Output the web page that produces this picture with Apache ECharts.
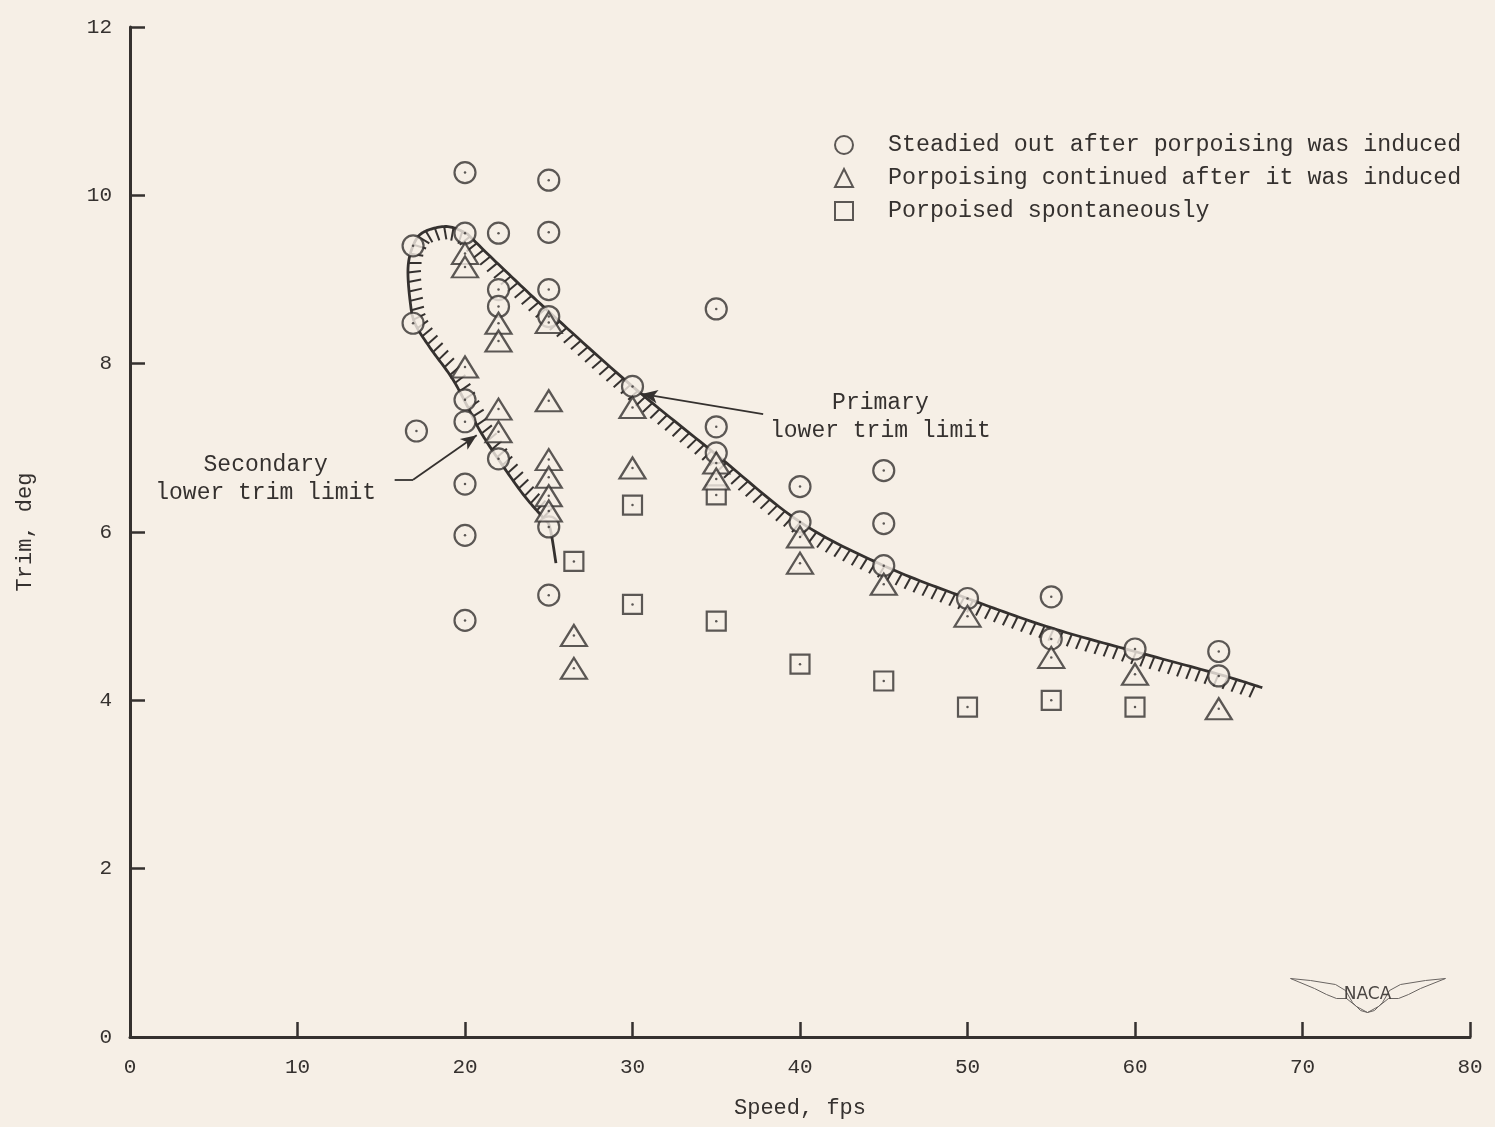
<!DOCTYPE html>
<html>
<head>
<meta charset="utf-8">
<script src="https://cdn.jsdelivr.net/npm/echarts@6/dist/echarts.min.js"></script>
<style>
  html, body { margin: 0; padding: 0; background: #f6efe6; }
  #chart { width: 1495px; height: 1127px; }
</style>
</head>
<body>
<div id="chart"></div>
<script>
// ---------------- data ----------------
const xTicks = [0, 10, 20, 30, 40, 50, 60, 70, 80];
const yTicks = [0, 2, 4, 6, 8, 10, 12];

// Steadied out after porpoising was induced (circles)
const steadiedSpeed = [16.9, 16.9, 17.1, 20, 20, 20, 20, 20, 20, 20, 22, 22, 22, 22, 25, 25, 25, 25, 25, 25, 30, 35, 35, 35, 40, 40, 45, 45, 45, 50, 55, 55, 60, 65, 65];
const steadiedTrim  = [9.40, 8.48, 7.20, 10.27, 9.55, 7.57, 7.31, 6.57, 5.96, 4.95, 9.55, 8.88, 8.68, 6.87, 10.18, 9.56, 8.88, 8.56, 6.06, 5.25, 7.73, 8.65, 7.25, 6.94, 6.54, 6.12, 6.73, 6.10, 5.60, 5.21, 5.23, 4.73, 4.61, 4.58, 4.29];

// Porpoising continued after it was induced (triangles)
const continuedSpeed = [20, 20, 20, 22, 22, 22, 22, 25, 25, 25, 25, 25, 25, 26.5, 26.5, 30, 30, 35, 35, 40, 40, 45, 50, 55, 60, 65];
const continuedTrim  = [9.31, 9.15, 7.96, 8.48, 8.27, 7.46, 7.19, 8.49, 7.56, 6.86, 6.65, 6.43, 6.25, 4.77, 4.38, 7.48, 6.76, 6.82, 6.63, 5.94, 5.63, 5.38, 5.00, 4.51, 4.31, 3.90];

// Porpoised spontaneously (squares)
const spontaneousSpeed = [26.5, 30, 30, 35, 35, 40, 45, 50, 55, 60];
const spontaneousTrim  = [5.65, 6.32, 5.14, 6.44, 4.94, 4.43, 4.23, 3.92, 4.00, 3.92];

// Primary lower trim limit (hatched curve)
const primarySpeed = [20.1, 22, 25, 30, 35, 40, 45, 50, 55, 60, 65, 67.6];
const primaryTrim  = [9.55, 9.18, 8.62, 7.73, 6.92, 6.12, 5.60, 5.21, 4.86, 4.58, 4.31, 4.15];

// Secondary lower trim limit (hatched loop + plain tail)
const secondarySpeed = [20.1, 18.9, 17.5, 16.9, 16.6, 16.72, 17.01, 17.91, 19.22, 20.18, 20.9, 21.97, 23.46, 24.66, 25.07, 25.43];
const secondaryTrim  = [9.55, 9.63, 9.56, 9.40, 9.14, 8.75, 8.48, 8.19, 7.83, 7.48, 7.20, 6.87, 6.45, 6.17, 6.05, 5.63];
const secondaryHatchedSegments = 13;

// Annotations (data units)
const primaryArrow = [[37.8, 7.40], [30.55, 7.64]];
const secondaryArrow = [[15.8, 6.62], [16.9, 6.62], [20.7, 7.15]];
const primaryLabelAt = [44.8, 7.37];
const secondaryLabelAt = [8.1, 6.63];

const seriesNames = [
  'Steadied out after porpoising was induced',
  'Porpoising continued after it was induced',
  'Porpoised spontaneously'
];

// ---------------- style ----------------
const BG = '#f6efe6';
const INK = '#35312f';
const MONO = '"Liberation Mono", "DejaVu Sans Mono", monospace';

const zip = (a, b) => a.map((v, i) => [v, b[i]]);

function catmull(pts, steps) {
  const out = [];
  for (let i = 0; i < pts.length - 1; i++) {
    const p0 = pts[Math.max(0, i - 1)], p1 = pts[i], p2 = pts[i + 1], p3 = pts[Math.min(pts.length - 1, i + 2)];
    for (let s = 0; s < steps; s++) {
      const t = s / steps, t2 = t * t, t3 = t2 * t;
      const f = (a, b, c, d) => 0.5 * ((2 * b) + (-a + c) * t + (2 * a - 5 * b + 4 * c - d) * t2 + (-a + 3 * b - 3 * c + d) * t3);
      out.push([f(p0[0], p1[0], p2[0], p3[0]), f(p0[1], p1[1], p2[1], p3[1])]);
    }
  }
  out.push(pts[pts.length - 1]);
  return out;
}

function hatchedCurve(xs, ys, side, hatchSegs) {
  const STEPS = 16;
  return function (params, api) {
    if (params.dataIndex !== 0) return null;
    const pts = xs.map((x, i) => api.coord([x, ys[i]]));
    const dense = catmull(pts, STEPS);
    const children = [{
      type: 'polyline',
      shape: { points: dense },
      style: { stroke: INK, lineWidth: 2.8, fill: null }
    }];
    const hatchPts = dense.slice(0, hatchSegs * STEPS + 1);
    const spacing = 9.5, len = 13, slant = 0.12;
    let acc = spacing / 2;
    for (let i = 0; i < hatchPts.length - 1; i++) {
      const a = hatchPts[i], b = hatchPts[i + 1];
      const dx = b[0] - a[0], dy = b[1] - a[1];
      const L = Math.hypot(dx, dy);
      if (L === 0) continue;
      const tx = dx / L, ty = dy / L;
      const nx = side * -ty, ny = side * tx;
      let pos = acc;
      while (pos <= L) {
        const px = a[0] + tx * pos, py = a[1] + ty * pos;
        children.push({
          type: 'line',
          shape: { x1: px, y1: py, x2: px + nx * len - tx * len * slant, y2: py + ny * len - ty * len * slant },
          style: { stroke: INK, lineWidth: 2 }
        });
        pos += spacing;
      }
      acc = pos - L;
    }
    return { type: 'group', children };
  };
}

const markerStyle = { color: BG, borderColor: INK, borderWidth: 2.2 };

const chart = echarts.init(document.getElementById('chart'), null, { renderer: 'canvas' });
chart.setOption({
  backgroundColor: BG,
  animation: false,
  textStyle: { fontFamily: MONO, color: INK },
  grid: { left: 130, right: 25, top: 27, bottom: 90 },
  legend: {
    data: seriesNames,
    orient: 'vertical',
    left: 829,
    top: 128,
    itemWidth: 18,
    itemHeight: 18,
    itemGap: 9,
    selectedMode: false,
    textStyle: { fontFamily: MONO, fontSize: 23.3, color: INK, padding: [0, 0, 0, 30], lineHeight: 24 }
  },
  xAxis: {
    type: 'value',
    min: xTicks[0],
    max: xTicks[xTicks.length - 1],
    interval: 10,
    name: 'Speed, fps',
    nameLocation: 'middle',
    nameGap: 60,
    nameTextStyle: { fontFamily: MONO, fontSize: 22, color: INK },
    axisLine: { lineStyle: { color: INK, width: 3 } },
    axisTick: { inside: true, length: 15, lineStyle: { color: INK, width: 2.5 } },
    axisLabel: { margin: 20, fontFamily: MONO, fontSize: 21, color: INK },
    splitLine: { show: false }
  },
  yAxis: {
    type: 'value',
    min: yTicks[0],
    max: yTicks[yTicks.length - 1],
    interval: 2,
    name: 'Trim, deg',
    nameLocation: 'middle',
    nameGap: 94,
    nameTextStyle: { fontFamily: MONO, fontSize: 22, color: INK },
    axisLine: { lineStyle: { color: INK, width: 3 } },
    axisTick: { inside: true, length: 15, lineStyle: { color: INK, width: 2.5 } },
    axisLabel: { margin: 18, fontFamily: MONO, fontSize: 21, color: INK },
    splitLine: { show: false }
  },
  series: [
    {
      type: 'custom',
      name: 'primaryLimit',
      renderItem: hatchedCurve(primarySpeed, primaryTrim, 1, primarySpeed.length - 1),
      data: zip(primarySpeed, primaryTrim),
      encode: { x: 0, y: 1 },
      silent: true,
      z: 2
    },
    {
      type: 'custom',
      name: 'secondaryLimit',
      renderItem: hatchedCurve(secondarySpeed, secondaryTrim, -1, secondaryHatchedSegments),
      data: zip(secondarySpeed, secondaryTrim),
      encode: { x: 0, y: 1 },
      silent: true,
      z: 2
    },
    {
      type: 'scatter',
      name: seriesNames[0],
      symbol: 'circle',
      symbolSize: 21,
      itemStyle: markerStyle,
      data: zip(steadiedSpeed, steadiedTrim),
      z: 3
    },
    {
      type: 'scatter',
      name: seriesNames[1],
      symbol: 'triangle',
      symbolSize: [26, 21],
      itemStyle: markerStyle,
      data: zip(continuedSpeed, continuedTrim),
      z: 4
    },
    {
      type: 'scatter',
      name: seriesNames[2],
      symbol: 'rect',
      symbolSize: 19,
      itemStyle: markerStyle,
      data: zip(spontaneousSpeed, spontaneousTrim),
      z: 3
    },
    {
      type: 'scatter',
      name: 'dots',
      symbol: 'circle',
      symbolSize: 2.5,
      itemStyle: { color: INK },
      data: zip(steadiedSpeed, steadiedTrim).concat(zip(continuedSpeed, continuedTrim), zip(spontaneousSpeed, spontaneousTrim)),
      silent: true,
      z: 5
    },
    {
      type: 'line',
      name: 'annotations',
      data: [],
      silent: true,
      markLine: {
        silent: true,
        symbol: ['none', 'arrow'],
        symbolSize: [10, 16],
        label: { show: false },
        lineStyle: { color: INK, width: 1.8, type: 'solid' },
        data: [
          [{ coord: primaryArrow[0], symbol: 'none' }, { coord: primaryArrow[1], symbol: 'arrow' }],
          [{ coord: secondaryArrow[0], symbol: 'none' }, { coord: secondaryArrow[1], symbol: 'none' }],
          [{ coord: secondaryArrow[1], symbol: 'none' }, { coord: secondaryArrow[2], symbol: 'arrow' }]
        ]
      },
      markPoint: {
        silent: true,
        symbol: 'circle',
        symbolSize: 0,
        label: {
          show: true,
          position: 'inside',
          fontFamily: MONO,
          fontSize: 23,
          lineHeight: 28,
          align: 'center',
          color: INK
        },
        data: [
          { coord: primaryLabelAt, label: { formatter: 'Primary\nlower trim limit' } },
          { coord: secondaryLabelAt, label: { formatter: 'Secondary\nlower trim limit' } }
        ]
      }
    }
  ],
  graphic: [
    {
      type: 'group',
      left: 1288,
      top: 976,
      silent: true,
      children: [
        {
          type: 'polyline',
          shape: { points: [[0, 2], [20, 4], [45, 8], [55, 14], [62, 26], [70, 34], [77, 36], [84, 34], [92, 26], [99, 14], [110, 8], [135, 4], [155, 2], [130, 12], [118, 18], [108, 22], [98, 22], [88, 30], [77, 36], [66, 30], [56, 22], [46, 22], [36, 18], [24, 12], [0, 2]] },
          style: { stroke: '#6a6562', lineWidth: 1, fill: null }
        },
        {
          type: 'text',
          style: { text: 'NACA', x: 77, y: 18, align: 'center', verticalAlign: 'middle', font: '17px "DejaVu Sans", sans-serif', fill: '#4a4542' }
        }
      ]
    }
  ]
});
</script>
</body>
</html>
